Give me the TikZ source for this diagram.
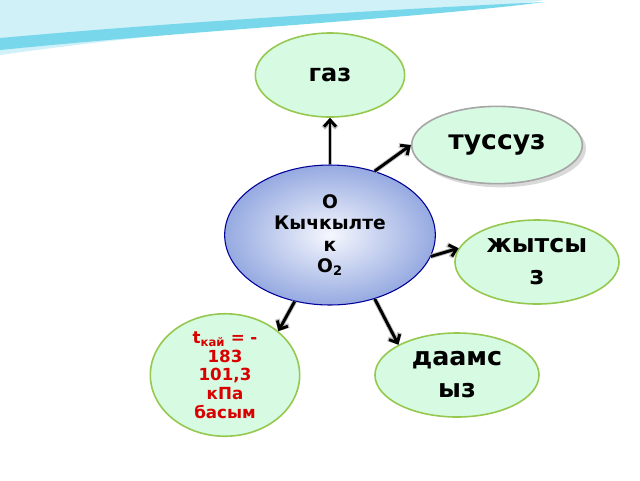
\documentclass[tikz,border=0pt]{standalone}
\usepackage{fontspec}
\setmainfont{DejaVu Sans}
\usetikzlibrary{shapes.geometric,arrows.meta,shadows}
\definecolor{bubble}{RGB}{214,250,226}
\definecolor{rim}{RGB}{150,200,80}
\definecolor{coreA}{RGB}{245,247,253}
\definecolor{coreB}{RGB}{150,170,225}
\definecolor{wave}{RGB}{120,215,235}
\tikzset{
  bubble/.style={ellipse,draw=rim,line width=1.2pt,fill=bubble,font=\bfseries\fontsize{18}{22}\selectfont,align=center,inner sep=0pt},
  core/.style={ellipse,draw=blue!60!black,line width=0.8pt,inner color=coreA,outer color=coreB,font=\bfseries\fontsize{14}{16}\selectfont,align=center,inner sep=0pt},
  link/.style={line width=2.2pt,-{Straight Barb[length=5pt,width=9pt]},draw=black,
    preaction={draw=gray!50,line width=3.6pt,-{Straight Barb[length=5pt,width=10pt]}}},
}
\begin{document}
\begin{tikzpicture}[x=0.75pt,y=-0.75pt]
\useasboundingbox (0,0) rectangle (640,480);
% top band
\fill[wave!35] (0,0) -- (545,0) .. controls (450,15) and (250,20) .. (0,55) -- cycle;
\fill[wave] (0,38) .. controls (200,20) and (420,8) .. (545,2) .. controls (420,18) and (200,30) .. (0,50) -- cycle;
% nodes
\node[bubble,minimum width=112pt,minimum height=63pt] (gas) at (330,75) {газ};
\node[bubble,draw=gray!70,minimum width=128pt,minimum height=58pt,drop shadow={opacity=0.3},
      font=\bfseries\fontsize{20}{22}\selectfont] (colour) at (497,145) {туссуз};
\node[core,minimum width=158pt,minimum height=105pt] (oxy) at (330,235) {О\\Кычкылте\\к\\О\textsubscript{2}};
\node[bubble,minimum width=123pt,minimum height=63pt,text width=80pt,
      font=\bfseries\fontsize{19}{24}\selectfont] (smell) at (537,262) {жытсы\\з};
\node[bubble,minimum width=123pt,minimum height=63pt,text width=80pt,
      font=\bfseries\fontsize{19}{24}\selectfont] (taste) at (457,375) {даамс\\ыз};
\node[bubble,minimum width=112pt,minimum height=75pt,text width=70pt,text=red!85!black,
      font=\bfseries\fontsize{12.5}{14}\selectfont] (boil) at (225,375)
  {t\textsubscript{кай} = -\\183\\101,3\\кПа\\басым};
% links
\draw[link] (oxy.north) -- (gas.south);
\draw[link] (oxy.55) -- (colour.west);
\draw[link] (oxy.-12) -- (smell.170);
\draw[link] (oxy.-55) -- (taste.north west);
\draw[link] (oxy.-118) -- (boil.north east);
\end{tikzpicture}
\end{document}
